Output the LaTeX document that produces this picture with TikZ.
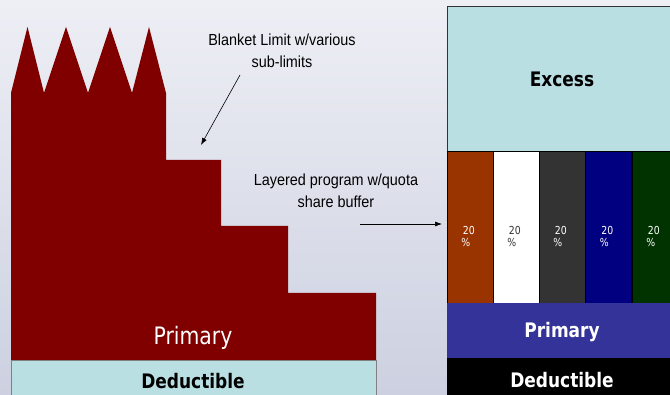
\documentclass[tikz,border=0pt]{standalone}
\usepackage{fontspec}
\usetikzlibrary{arrows.meta}
\setmainfont{DejaVu Sans}
\newfontfamily\boxfont[FakeStretch=0.85]{DejaVu Sans}
\newfontfamily\notefont[FakeStretch=0.9]{Liberation Sans}

\definecolor{bgtop}{RGB}{238,239,245}
\definecolor{bgbottom}{RGB}{204,208,224}
\definecolor{limitred}{RGB}{128,0,0}
\definecolor{palecyan}{RGB}{185,223,227}
\definecolor{rust}{RGB}{153,51,0}
\definecolor{charcoal}{RGB}{51,51,51}
\definecolor{navyq}{RGB}{0,0,128}
\definecolor{forest}{RGB}{0,51,0}
\definecolor{indigoq}{RGB}{51,51,153}

\tikzset{
  layer/.style={rectangle, inner sep=0pt, outer sep=0pt, anchor=north west},
  bigbold/.style={font=\boxfont\bfseries\fontsize{20}{22}\selectfont},
  quota/.style={layer, draw=black, line width=0.8pt, minimum width=46pt, minimum height=152pt},
  pct/.style={font=\boxfont\fontsize{11}{12}\selectfont, align=left, inner sep=0pt},
  note/.style={font=\notefont\fontsize{16}{22}\selectfont, align=center, inner sep=0pt},
  pointer/.style={line width=0.6pt, -{Latex[length=7pt,width=5pt]}},
}

\begin{document}
\begin{tikzpicture}[x=1pt,y=-1pt]
  % page background
  \shade[top color=bgtop, bottom color=bgbottom] (0,0) rectangle (670,395);
  \useasboundingbox (0,0) rectangle (670,395);

  % left: blanket limit with sub-limits, stepped down to the primary layer
  \fill[limitred] (11,93) -- (27.5,27) -- (44,93) -- (66,27) -- (88,93)
    -- (110,27) -- (132,93) -- (149,27) -- (166,93) -- (166,160)
    -- (221,160) -- (221,226) -- (288,226) -- (288,293) -- (376,293)
    -- (376,360) -- (11,360) -- cycle;
  \node[white, font=\boxfont\fontsize{24}{24}\selectfont] (lprimary) at (193,338) {Primary};
  \node[layer, draw=gray, line width=0.8pt, fill=palecyan,
        minimum width=365pt, minimum height=45pt] (ldeduct) at (11,360) {};
  \node[bigbold] at (193,381) {Deductible};

  % right: layered program with quota share buffer
  \node[layer, draw=black!80, line width=0.8pt, fill=palecyan,
        minimum width=240pt, minimum height=145pt] (excess) at (447,6) {};
  \node[bigbold] at (562,79) {Excess};

  \node[quota, fill=rust]     (q1) at (447,151) {};
  \node[quota, fill=white]    (q2) at (493,151) {};
  \node[quota, fill=charcoal] (q3) at (539,151) {};
  \node[quota, fill=navyq]    (q4) at (585.5,151) {};
  \node[quota, fill=forest]   (q5) at (632,151) {};
  \foreach \q/\c in {q1/white, q2/charcoal, q3/white, q4/white, q5/white}
    \node[pct, text=\c] at ([xshift=-2pt,yshift=-9.5pt]\q.center) {\hspace*{1.5pt}20\\\%};

  \node[layer, fill=indigoq, minimum width=240pt, minimum height=55pt] (rprimary) at (447,303) {};
  \node[bigbold, white] at (562,332) {Primary};
  \node[layer, fill=black, minimum width=240pt, minimum height=45pt] (rdeduct) at (447,358) {};
  \node[bigbold, white] at (562,380) {Deductible};

  % annotations
  \node[note] (blanket) at (282,51) {Blanket Limit w/various\\sub-limits};
  \coordinate (blanketfrom) at (240,75);
  \coordinate (blanketto) at (201,145);
  \draw[pointer] (blanketfrom) -- (blanketto);

  \node[note] (layered) at (336,191) {Layered program w/quota\\share buffer};
  \coordinate (layeredfrom) at (360,224);
  \draw[pointer] (layeredfrom) -- ([xshift=-5pt]q1.west |- layeredfrom);
\end{tikzpicture}
\end{document}
